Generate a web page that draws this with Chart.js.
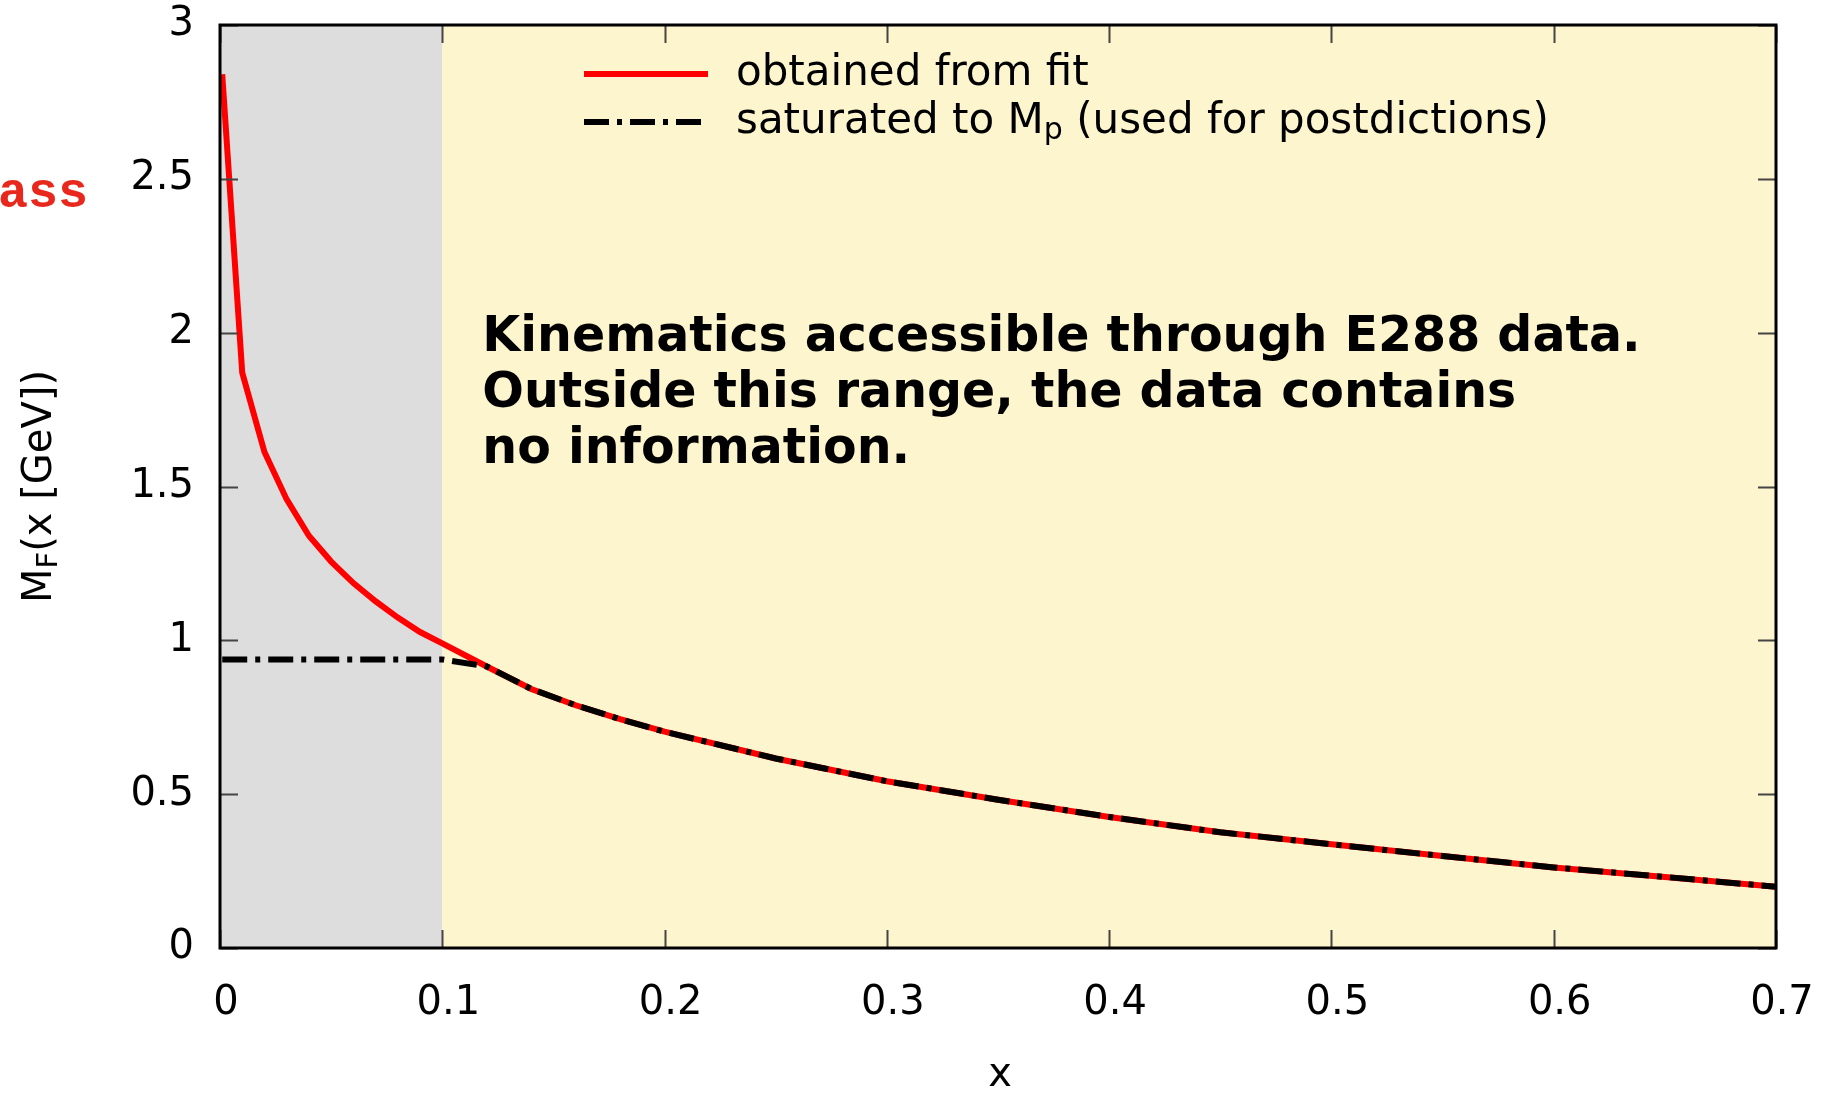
<!DOCTYPE html>
<html>
<head>
<meta charset="utf-8">
<script src="https://cdn.jsdelivr.net/npm/chart.js@4/dist/chart.umd.min.js"></script>
<style>
    html, body { margin: 0; padding: 0; background: #ffffff; }
    #wrap { width: 1823px; height: 1093px; position: relative; }
</style>
</head>
<body>
<div id="wrap"><canvas id="massChart" width="1823" height="1093"></canvas></div>
<script>
// x grid of the curves
const xValues = [0.001, 0.01, 0.02, 0.03, 0.04, 0.05, 0.06, 0.07, 0.08, 0.09, 0.1,
    0.12, 0.14, 0.16, 0.18, 0.2, 0.25, 0.3, 0.35, 0.4, 0.45, 0.5, 0.55, 0.6, 0.65, 0.7];
// M_F(x) obtained from fit
const fitValues = [2.84, 1.87, 1.612, 1.458, 1.340, 1.256, 1.186, 1.127, 1.074, 1.027, 0.990,
    0.915, 0.842, 0.789, 0.744, 0.703, 0.616, 0.542, 0.482, 0.426, 0.376, 0.337, 0.299, 0.262, 0.231, 0.199];
// saturated to the proton mass below x ~ 0.1
const saturatedValues = [0.938, 0.938, 0.938, 0.938, 0.938, 0.938, 0.938, 0.938, 0.938, 0.938, 0.938,
    0.915, 0.842, 0.789, 0.744, 0.703, 0.616, 0.542, 0.482, 0.426, 0.376, 0.337, 0.299, 0.262, 0.231, 0.199];

const xTickLabels = ['0', '0.1', '0.2', '0.3', '0.4', '0.5', '0.6', '0.7'];
const yTickLabels = ['0', '0.5', '1', '1.5', '2', '2.5', '3'];
const seriesNames = ['obtained from fit', 'saturated to M_p (used for postdictions)'];
const noteLines = ['Kinematics accessible through E288 data.', 'Outside this range, the data contains', 'no information.'];
const xRange = [0, 0.7];
const yRange = [0, 3];
const dataEdge = 0.1; // left of this the E288 data says nothing

const FONT = '"DejaVu Sans", "Noto Sans", sans-serif';
const dashDot = [25, 8, 5, 8];

// draw text with "_x" parts as subscripts
function drawSubText(ctx, text, x, y, size) {
    const parts = text.split(/_(\w)/);
    ctx.textAlign = 'left';
    parts.forEach((p, i) => {
        if (i % 2 === 1) {
            ctx.font = Math.round(size * 0.72) + 'px ' + FONT;
            ctx.fillText(p, x, y + size * 0.22);
        } else {
            ctx.font = size + 'px ' + FONT;
            ctx.fillText(p, x, y);
        }
        x += ctx.measureText(p).width;
    });
    return x;
}

function measureSubText(ctx, text, size) {
    const parts = text.split(/_(\w)/);
    let w = 0;
    parts.forEach((p, i) => {
        ctx.font = (i % 2 === 1 ? Math.round(size * 0.72) : size) + 'px ' + FONT;
        w += ctx.measureText(p).width;
    });
    return w;
}

const regionsPlugin = {
    id: 'regions',
    beforeDatasetsDraw(chart) {
        const { ctx, chartArea: a, scales: { x } } = chart;
        const edge = x.getPixelForValue(dataEdge);
        ctx.save();
        ctx.fillStyle = '#dddddd';
        ctx.fillRect(a.left, a.top, edge - a.left, a.bottom - a.top);
        ctx.fillStyle = '#fdf5cd';
        ctx.fillRect(edge, a.top, a.right - edge, a.bottom - a.top);
        ctx.restore();
    }
};

const framePlugin = {
    id: 'frame',
    afterDatasetsDraw(chart) {
        const { ctx, chartArea: a, scales: { x, y } } = chart;
        ctx.save();
        // inward ticks on all four sides
        ctx.strokeStyle = '#444444';
        ctx.lineWidth = 2;
        const len = 18;
        x.ticks.forEach(t => {
            const px = Math.round(x.getPixelForValue(t.value)) + 0.5;
            ctx.beginPath();
            ctx.moveTo(px, a.bottom); ctx.lineTo(px, a.bottom - len);
            ctx.moveTo(px, a.top); ctx.lineTo(px, a.top + len);
            ctx.stroke();
        });
        y.ticks.forEach(t => {
            const py = Math.round(y.getPixelForValue(t.value)) + 0.5;
            ctx.beginPath();
            ctx.moveTo(a.left, py); ctx.lineTo(a.left + len, py);
            ctx.moveTo(a.right, py); ctx.lineTo(a.right - len, py);
            ctx.stroke();
        });
        ctx.strokeStyle = '#000000';
        ctx.lineWidth = 3;
        ctx.strokeRect(a.left, a.top, a.right - a.left, a.bottom - a.top);

        // legend, top of the plot
        const ds = chart.data.datasets;
        const lx0 = 584, lx1 = 708, tx = 736;
        const rows = [74, 122];
        ds.forEach((d, i) => {
            ctx.strokeStyle = d.borderColor;
            ctx.lineWidth = d.borderWidth;
            ctx.setLineDash(d.borderDash || []);
            ctx.beginPath();
            ctx.moveTo(lx0, rows[i]); ctx.lineTo(lx1, rows[i]);
            ctx.stroke();
            ctx.setLineDash([]);
            ctx.fillStyle = '#000000';
            ctx.textBaseline = 'middle';
            drawSubText(ctx, d.label, tx, rows[i], 42);
        });

        // annotation
        ctx.fillStyle = '#000000';
        ctx.textBaseline = 'alphabetic';
        ctx.textAlign = 'left';
        ctx.font = 'bold 49px ' + FONT;
        const nx = x.getPixelForValue(0.118);
        noteLines.forEach((line, i) => {
            ctx.fillText(line, nx, 351 + i * 56);
        });

        // axis titles
        ctx.save();
        ctx.translate(41, (a.top + a.bottom) / 2);
        ctx.rotate(-Math.PI / 2);
        ctx.textBaseline = 'middle';
        const w = measureSubText(ctx, 'M_F(x [GeV])', 40);
        drawSubText(ctx, 'M_F(x [GeV])', -w / 2, 0, 40);
        ctx.restore();

        ctx.font = '40px ' + FONT;
        ctx.textAlign = 'center';
        ctx.textBaseline = 'alphabetic';
        ctx.fillText('x', (a.left + a.right) / 2 + 2, 1086);

        // clipped slide word at the far left
        ctx.fillStyle = '#e8281c';
        ctx.font = 'bold 50px "Liberation Mono", monospace';
        ctx.textAlign = 'right';
        ctx.fillText('ass', 88, 207);
        ctx.restore();
    }
};

const ctx = document.getElementById('massChart');
new Chart(ctx, {
    type: 'line',
    data: {
        datasets: [
            {
                label: seriesNames[0],
                data: xValues.map((v, i) => ({ x: v, y: fitValues[i] })),
                borderColor: '#ff0000',
                borderWidth: 6,
                pointRadius: 0,
                tension: 0,
                order: 2
            },
            {
                label: seriesNames[1],
                data: xValues.map((v, i) => ({ x: v, y: saturatedValues[i] })),
                borderColor: '#000000',
                borderWidth: 6,
                borderDash: dashDot,
                borderCapStyle: 'butt',
                pointRadius: 0,
                tension: 0,
                order: 1
            }
        ]
    },
    options: {
        responsive: false,
        animation: false,
        layout: { padding: { top: 25, right: 47, bottom: 0, left: 0 } },
        scales: {
            x: {
                type: 'linear',
                min: xRange[0],
                max: xRange[1],
                grid: { display: false, drawTicks: false },
                border: { display: false },
                ticks: {
                    stepSize: 0.1,
                    padding: 32,
                    labelOffset: 6,
                    color: '#000000',
                    font: { family: FONT, size: 40 },
                    maxRotation: 0,
                    callback: (value, index) => xTickLabels[index]
                },
                afterFit: (scale) => {
                    scale.height = 145;
                    scale.paddingLeft = 0;
                    scale.paddingRight = 0;
                }
            },
            y: {
                type: 'linear',
                min: yRange[0],
                max: yRange[1],
                grid: { display: false, drawTicks: false },
                border: { display: false },
                ticks: {
                    stepSize: 0.5,
                    padding: 26,
                    color: '#000000',
                    font: { family: FONT, size: 40 },
                    callback: (value, index) => yTickLabels[index]
                },
                afterFit: (scale) => {
                    scale.width = 220;
                    scale.paddingTop = 0;
                    scale.paddingBottom = 0;
                }
            }
        },
        plugins: {
            legend: { display: false },
            tooltip: { enabled: false }
        }
    },
    plugins: [regionsPlugin, framePlugin]
});
</script>
</body>
</html>
